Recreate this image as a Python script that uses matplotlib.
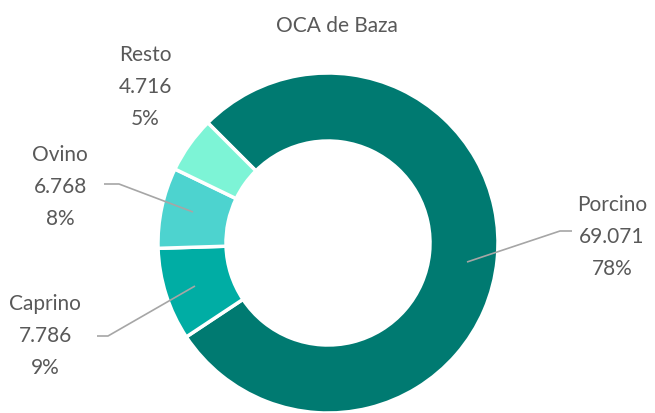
import numpy as np
import matplotlib.pyplot as plt

# OCA de Baza: cabezas por especie
especies = ['Porcino', 'Caprino', 'Ovino', 'Resto']
cabezas = [69.071, 7.786, 6.768, 4.716]
colores = ['#007A71', '#00ADA4', '#4DD3CF', '#7DF4D6']

plt.rcParams['font.family'] = ['Lato', 'DejaVu Sans']
gris = '#595959'

fig = plt.figure(figsize=(6.55, 4.14), dpi=100)
ax = fig.add_axes([0, 0, 1, 1])

# 1 unidad = 170 px, centro del anillo en (328, 244) px
px = 170.0
cx, cy = 328.0, 244.0
def P(x, y):
    return ((x - cx) / px, (cy - y) / px)

wedges, _ = ax.pie(cabezas, colors=colores, startangle=135, counterclock=False,
                   radius=1.0, wedgeprops=dict(width=0.4, edgecolor='white', linewidth=2.5))

ax.set_xlim(-cx / px, (655 - cx) / px)
ax.set_ylim((cy - 414) / px, cy / px)
ax.set_aspect('equal')
ax.axis('off')

total = sum(cabezas)
etiquetas = {}
for nombre, v in zip(especies, cabezas):
    pct = round(v / total * 100)
    etiquetas[nombre] = f'{nombre}\n{v:.3f}\n{pct}%'

# posicion del texto y linea guia (px)
pos_texto = {'Porcino': (612, 237), 'Caprino': (45, 336), 'Ovino': (60, 187), 'Resto': (145, 87)}
guias = {
    'Porcino': [(467, 263), (560, 232), (572, 232)],
    'Caprino': [(195, 287), (108, 337), (97, 337)],
    'Ovino': [(193, 213), (119, 185), (104, 185)],
}

for nombre, pts in guias.items():
    xs, ys = zip(*[P(*p) for p in pts])
    ax.plot(xs, ys, color='#A6A6A6', lw=1.2, solid_capstyle='butt')

for nombre in especies:
    x, y = P(*pos_texto[nombre])
    ax.text(x, y, etiquetas[nombre], ha='center', va='center', fontsize=15,
            color=gris, linespacing=1.75)

tx, ty = P(337, 26)
ax.text(tx, ty, 'OCA de Baza', ha='center', va='center', fontsize=15, color=gris)

fig.savefig('out.png', dpi=100, facecolor='white')
